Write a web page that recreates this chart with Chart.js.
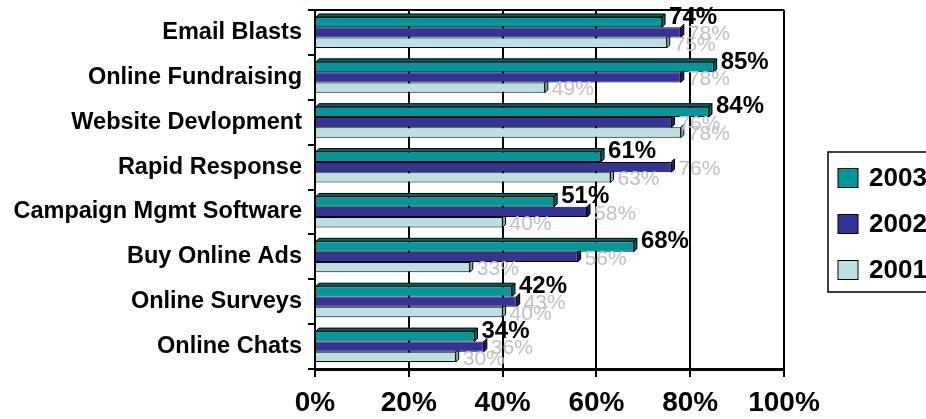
<!DOCTYPE html>
<html>
<head>
<meta charset="utf-8">
<title>Online tools usage</title>
<script src="https://cdn.jsdelivr.net/npm/chart.js@4.4.0/dist/chart.umd.min.js"></script>
<style>
	html, body { margin: 0; padding: 0; background: #fff; }
	#wrap { width: 926px; height: 419px; position: relative; overflow: hidden; }
</style>
</head>
<body>
<div id="wrap"><canvas id="chart" width="926" height="419"></canvas></div>
<script>
// カテゴリ（上から順）
const categories = [
	'Email Blasts',
	'Online Fundraising',
	'Website Devlopment',
	'Rapid Response',
	'Campaign Mgmt Software',
	'Buy Online Ads',
	'Online Surveys',
	'Online Chats',
];

// 年ごとの値（%）
const years = [ '2003', '2002', '2001' ];
const values2003 = [ 74, 85, 84, 61, 51, 68, 42, 34 ];
const values2002 = [ 78, 78, 76, 76, 58, 56, 43, 36 ];
const values2001 = [ 75, 49, 78, 63, 40, 33, 40, 30 ];

// 横軸の目盛り
const xTicks = [ 0, 20, 40, 60, 80, 100 ];

const fills = [ '#009999', '#333399', '#bbe0e3' ];
const sides = [ '#006666', '#1f1f6b', '#7fb2b5' ];

/**
 * 棒の右端に奥行きを付けて立体風にする
 */
const barDepth = {
	id: 'barDepth',
	afterDatasetDraw( chart, args ) {
		const { ctx } = chart;
		const d = 3;
		const i = args.index;
		ctx.save();
		ctx.lineWidth = 1;
		ctx.strokeStyle = '#000';
		args.meta.data.forEach( ( bar ) => {
			const top = bar.y - bar.height / 2;
			const bottom = bar.y + bar.height / 2;
			// 右端の側面
			ctx.fillStyle = sides[ i ];
			ctx.beginPath();
			ctx.moveTo( bar.x, top );
			ctx.lineTo( bar.x + d, top - d );
			ctx.lineTo( bar.x + d, bottom - d );
			ctx.lineTo( bar.x, bottom );
			ctx.closePath();
			ctx.fill();
			ctx.stroke();
			// 一番上の棒だけ上面も描く
			if ( i === 0 ) {
				ctx.beginPath();
				ctx.moveTo( bar.base, top );
				ctx.lineTo( bar.base + d, top - d );
				ctx.lineTo( bar.x + d, top - d );
				ctx.lineTo( bar.x, top );
				ctx.closePath();
				ctx.fill();
				ctx.stroke();
			}
		} );
		ctx.restore();
	},
};

/**
 * 値ラベル：2002/2001はグレー、2003は太字で最後に重ねる
 */
const valueLabels = {
	id: 'valueLabels',
	afterDatasetsDraw( chart ) {
		const { ctx } = chart;
		ctx.save();
		ctx.textAlign = 'left';
		ctx.textBaseline = 'middle';
		[ 2, 1, 0 ].forEach( ( i ) => {
			const meta = chart.getDatasetMeta( i );
			const data = chart.data.datasets[ i ].data;
			if ( i === 0 ) {
				ctx.font = 'bold 24px Arial, "Liberation Sans", sans-serif';
				ctx.fillStyle = '#000';
			} else {
				ctx.font = '21px Arial, "Liberation Sans", sans-serif';
				ctx.fillStyle = '#c0c0c0';
			}
			meta.data.forEach( ( bar, j ) => {
				const dy = i === 0 ? -5 : 2;
				ctx.fillText( data[ j ] + '%', bar.x + 7, bar.y + dy );
			} );
		} );
		ctx.restore();
	},
};

/**
 * 上辺の枠線と、右側の凡例
 */
const frameAndLegend = {
	id: 'frameAndLegend',
	afterDraw( chart ) {
		const { ctx, chartArea } = chart;
		ctx.save();
		ctx.strokeStyle = '#000';
		ctx.lineWidth = 2;
		ctx.beginPath();
		ctx.moveTo( chartArea.left, chartArea.top );
		ctx.lineTo( chartArea.right, chartArea.top );
		ctx.stroke();

		// 凡例
		const lx = 828;
		const ly = 152;
		ctx.lineWidth = 1.5;
		ctx.strokeRect( lx, ly, 200, 140 );
		ctx.font = 'bold 26px Arial, "Liberation Sans", sans-serif';
		ctx.textAlign = 'left';
		ctx.textBaseline = 'middle';
		chart.data.datasets.forEach( ( ds, i ) => {
			const cy = 178 + i * 46;
			ctx.fillStyle = ds.backgroundColor;
			ctx.fillRect( lx + 10, cy - 9.5, 20, 19 );
			ctx.lineWidth = 1;
			ctx.strokeRect( lx + 10, cy - 9.5, 20, 19 );
			ctx.fillStyle = '#000';
			ctx.fillText( ds.label, lx + 41, cy + 1 );
		} );
		ctx.restore();
	},
};

new Chart( document.getElementById( 'chart' ), {
	type: 'bar',
	data: {
		labels: categories,
		datasets: [ values2003, values2002, values2001 ].map( ( values, i ) => ( {
			label: years[ i ],
			data: values,
			backgroundColor: fills[ i ],
			borderColor: '#000',
			borderWidth: 1,
			borderSkipped: 'start',
			categoryPercentage: 0.69,
			barPercentage: 1.0,
		} ) ),
	},
	options: {
		indexAxis: 'y',
		responsive: false,
		animation: false,
		layout: {
			padding: { top: 10, right: 142, left: 0, bottom: 0 },
		},
		scales: {
			x: {
				min: 0,
				max: 100,
				afterFit( scale ) {
					scale.height = 50;
				},
				afterBuildTicks( scale ) {
					scale.ticks = xTicks.map( ( v ) => ( { value: v } ) );
				},
				ticks: {
					callback: ( v ) => v + '%',
					color: '#000',
					padding: 9,
					font: { family: 'Arial, "Liberation Sans", sans-serif', size: 28, weight: 'bold' },
				},
				grid: {
					color: '#000',
					lineWidth: 2,
					tickLength: 8,
				},
				border: { color: '#000', width: 3 },
			},
			y: {
				afterFit( scale ) {
					scale.width = 315;
					// ラベル分の上下余白は付けない
					scale.paddingTop = 0;
					scale.paddingBottom = 0;
				},
				ticks: {
					color: '#000',
					padding: 6,
					font: { family: 'Arial, "Liberation Sans", sans-serif', size: 23.5, weight: 'bold' },
				},
				grid: {
					drawOnChartArea: false,
					color: '#000',
					lineWidth: 2,
					tickLength: 7,
				},
				border: { color: '#000', width: 2 },
			},
		},
		plugins: {
			legend: { display: false },
			tooltip: { enabled: false },
		},
	},
	plugins: [ barDepth, valueLabels, frameAndLegend ],
} );
</script>
</body>
</html>
